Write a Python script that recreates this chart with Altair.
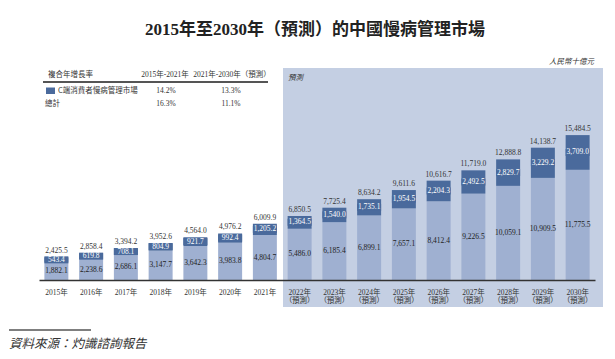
import altair as alt
import pandas as pd

# ---- data ----
years = ["2015", "2016", "2017", "2018", "2019", "2020", "2021", "2022",
         "2023", "2024", "2025", "2026", "2027", "2028", "2029", "2030"]
other_market = [1882.1, 2238.6, 2686.1, 3147.7, 3642.3, 3983.8, 4804.7, 5486.0,
                6185.4, 6899.1, 7657.1, 8412.4, 9226.5, 10059.1, 10909.5, 11775.5]
consumer_market = [543.4, 619.8, 708.1, 804.9, 921.7, 992.4, 1205.2, 1364.5,
                   1540.0, 1735.1, 1954.5, 2204.3, 2492.5, 2829.7, 3229.2, 3709.0]
totals = [2425.5, 2858.4, 3394.2, 3952.6, 4564.0, 4976.2, 6009.9, 6850.5,
          7725.4, 8634.2, 9611.6, 10616.7, 11719.0, 12888.8, 14138.7, 15484.5]
first_forecast = 2022

cagr_periods = ["2015年-2021年", "2021年-2030年（預測）"]
cagr_consumer = ["14.2%", "13.3%"]
cagr_total = ["16.3%", "11.1%"]

title_text = "2015年至2030年（預測）的中國慢病管理市場"
unit_text = "人民幣十億元"
source_text = "資料來源：灼識諮詢報告"

# ---- styles ----
DARK = "#4a6a9c"
LIGHT = "#9fb0d1"
BAND = "#c4cfe3"
SERIF = "Liberation Serif, Noto Sans CJK TC"
CJK = "Noto Sans CJK TC"

labels = [y + "年" if int(y) < first_forecast else y + "年|（預測）" for y in years]
df = pd.DataFrame({"label": labels, "other": other_market,
                   "consumer": consumer_market, "total": totals})

x_enc = alt.X("label:N", sort=None,
              scale=alt.Scale(paddingInner=0.31, paddingOuter=0.155),
              axis=alt.Axis(title=None, labelExpr="split(datum.label, '|')",
                            labelAngle=0, ticks=False, domainColor="#333",
                            domainWidth=1.5, labelPadding=8, labelFont=SERIF,
                            labelFontSize=7.5, labelColor="#333",
                            labelLineHeight=8, grid=False, zindex=1))
y_scale = alt.Scale(domain=[0, 22440])

base = alt.Chart(df).transform_calculate(
    other_mid="datum.other / 2",
    cons_mid="datum.other + datum.consumer / 2",
)

one = pd.DataFrame({"a": [0]})


def annot(text, x, y, **kw):
    return alt.Chart(one).mark_text(**kw).encode(
        x=alt.value(x), y=alt.value(y), text=alt.value(text))


band = alt.Chart(one).mark_rect(color=BAND).encode(
    x=alt.value(244), x2=alt.value(564), y=alt.value(-2), y2=alt.value(237))

light = base.mark_bar(color=LIGHT).encode(
    x=x_enc, y=alt.Y("other:Q", scale=y_scale, axis=None))
dark = base.mark_bar(color=DARK).encode(
    x=x_enc, y=alt.Y("total:Q", scale=y_scale, axis=None), y2="other:Q")
# dark label backdrop (visible where the segment is thinner than its label)
dark_box = base.mark_tick(color=DARK, size=24, thickness=7, opacity=1).encode(
    x=x_enc, y=alt.Y("cons_mid:Q", scale=y_scale, axis=None))

light_txt = base.mark_text(font=SERIF, fontSize=7.5, color="#222", baseline="middle").encode(
    x=x_enc, y=alt.Y("other_mid:Q", scale=y_scale, axis=None),
    text=alt.Text("other:Q", format=",.1f"))
dark_txt = base.mark_text(font=SERIF, fontSize=7.5, color="white", baseline="middle").encode(
    x=x_enc, y=alt.Y("cons_mid:Q", scale=y_scale, axis=None),
    text=alt.Text("consumer:Q", format=",.1f"))
total_txt = base.mark_text(font=SERIF, fontSize=7.5, color="#333", baseline="middle", dy=-6).encode(
    x=x_enc, y=alt.Y("total:Q", scale=y_scale, axis=None),
    text=alt.Text("total:Q", format=",.1f"))

annots = [
    annot(title_text, 276, -40, font=SERIF, fontSize=17, fontWeight="bold",
          color="#222", align="center", baseline="middle"),
    # CAGR table
    annot("複合年增長率", 9, 5, font=CJK, fontSize=7.5, color="#333", align="left", baseline="middle"),
    annot(cagr_periods[0], 126, 5, font=SERIF, fontSize=7.5, color="#333", align="center", baseline="middle"),
    annot(cagr_periods[1], 193, 5, font=SERIF, fontSize=7.5, color="#333", align="center", baseline="middle"),
    alt.Chart(one).mark_rule(color="#555", strokeWidth=2).encode(
        x=alt.value(4), x2=alt.value(229), y=alt.value(12)),
    alt.Chart(one).mark_rect(color=DARK).encode(
        x=alt.value(7), x2=alt.value(16), y=alt.value(17.5), y2=alt.value(24)),
    annot("C端消費者慢病管理市場", 19, 21, font=CJK, fontSize=7.5, color="#333", align="left", baseline="middle"),
    annot(cagr_consumer[0], 127, 21, font=SERIF, fontSize=7.5, color="#333", align="center", baseline="middle"),
    annot(cagr_consumer[1], 192, 21, font=SERIF, fontSize=7.5, color="#333", align="center", baseline="middle"),
    annot("總計", 6, 33.5, font=CJK, fontSize=7.5, color="#333", align="left", baseline="middle"),
    annot(cagr_total[0], 127, 33.5, font=SERIF, fontSize=7.5, color="#333", align="center", baseline="middle"),
    annot(cagr_total[1], 192, 33.5, font=SERIF, fontSize=7.5, color="#333", align="center", baseline="middle"),
    # forecast / unit
    annot("預測", 249, 8, font=CJK, fontSize=7.5, fontStyle="italic", color="#333", align="left", baseline="middle"),
    annot(unit_text, 555, -8, font=CJK, fontSize=7.5, fontStyle="italic", color="#333", align="right", baseline="middle"),
    # source
    alt.Chart(one).mark_rule(color="#555", strokeWidth=1.5).encode(
        x=alt.value(-30), x2=alt.value(52), y=alt.value(260)),
    annot(source_text, -30, 274, font=CJK, fontSize=12.5, fontStyle="italic", color="#333",
          align="left", baseline="middle"),
]

chart = alt.layer(band, light, dark, dark_box, light_txt, dark_txt, total_txt, *annots).properties(
    width=556, height=210,
    padding={"left": 31, "top": 62, "right": 12, "bottom": 71},
    autosize=alt.AutoSizeParams(type="none"),
).configure_view(stroke=None)

chart.save("out.html", embed_options={"renderer": "svg", "actions": False})
